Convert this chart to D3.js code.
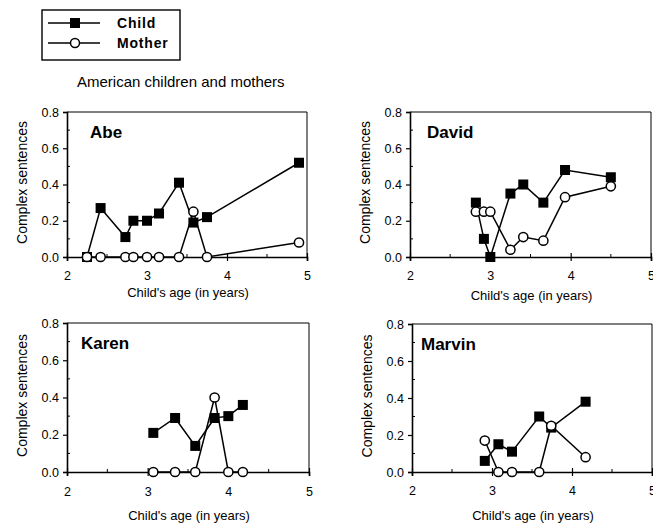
<!DOCTYPE html>
<html>
<head>
<meta charset="utf-8">
<script src="https://cdn.jsdelivr.net/npm/d3@7"></script>
<style>
  body { margin: 0; background: #fff; }
  svg { display: block; font-family: "Liberation Sans", Arial, sans-serif; }
</style>
</head>
<body>
<div id="chart"></div>
<script>
'use strict'
// values: age in years, share of complex sentences
var abeAge = [2.25, 2.42, 2.73, 2.83, 3.0, 3.15, 3.4, 3.58, 3.75, 4.9]
var abeChild = [0, 0.27, 0.11, 0.20, 0.20, 0.24, 0.41, 0.19, 0.22, 0.52]
var abeMother = [0, 0, 0, 0, 0, 0, 0, 0.25, 0, 0.08]

var davidAge = [2.82, 2.92, 3.0, 3.25, 3.41, 3.66, 3.93, 4.5]
var davidChild = [0.30, 0.10, 0.0, 0.35, 0.40, 0.30, 0.48, 0.44]
var davidMother = [0.25, 0.25, 0.25, 0.04, 0.11, 0.09, 0.33, 0.39]

var karenAge = [3.07, 3.34, 3.59, 3.83, 4.0, 4.18]
var karenChild = [0.21, 0.29, 0.14, 0.29, 0.30, 0.36]
var karenMother = [0, 0, 0, 0.40, 0, 0]

var marvinAge = [2.91, 3.08, 3.25, 3.59, 3.74, 4.17]
var marvinChild = [0.06, 0.15, 0.11, 0.30, 0.24, 0.38]
var marvinMother = [0.17, 0, 0, 0, 0.25, 0.08]

var xTicks = [2, 3, 4, 5]
var xMinor = [2.5, 3.5, 4.5]
var yTicks = [0, 0.2, 0.4, 0.6, 0.8]
var yMinor = [0.1, 0.3, 0.5, 0.7]

var panels = [
  { name: 'Abe', age: abeAge, child: abeChild, mother: abeMother, nameDx: 23,
    left: 67, right: 307, top: 112, bottom: 257, tickY: 280, titleY: 297 },
  { name: 'David', age: davidAge, child: davidChild, mother: davidMother, nameDx: 17,
    left: 410, right: 651, top: 112, bottom: 257, tickY: 280, titleY: 300 },
  { name: 'Karen', age: karenAge, child: karenChild, mother: karenMother, nameDx: 14,
    left: 67, right: 309, top: 323, bottom: 472, tickY: 496, titleY: 520 },
  { name: 'Marvin', age: marvinAge, child: marvinChild, mother: marvinMother, nameDx: 9,
    left: 412, right: 652, top: 324, bottom: 472, tickY: 495, titleY: 520 }
]

var svg = d3.select('#chart').append('svg')
  .attr('width', 653)
  .attr('height', 523)

// legend box
var legend = svg.append('g')
legend.append('rect')
  .attr('x', 42).attr('y', 10).attr('width', 138).attr('height', 50)
  .attr('fill', 'none').attr('stroke', '#000').attr('stroke-width', 1.4)
legend.append('line')
  .attr('x1', 48).attr('x2', 100).attr('y1', 23).attr('y2', 23)
  .attr('stroke', '#000').attr('stroke-width', 1.4)
legend.append('rect')
  .attr('x', 70).attr('y', 18).attr('width', 10).attr('height', 10)
  .attr('fill', '#000')
legend.append('line')
  .attr('x1', 48).attr('x2', 100).attr('y1', 43).attr('y2', 43)
  .attr('stroke', '#000').attr('stroke-width', 1.4)
legend.append('circle')
  .attr('cx', 75).attr('cy', 43).attr('r', 4.5)
  .attr('fill', '#fff').attr('stroke', '#000').attr('stroke-width', 1.5)
legend.append('text')
  .attr('x', 117).attr('y', 28).text('Child')
  .attr('font-size', 14).attr('font-weight', 'bold').attr('letter-spacing', 0.8)
legend.append('text')
  .attr('x', 117).attr('y', 48).text('Mother')
  .attr('font-size', 14).attr('font-weight', 'bold').attr('letter-spacing', 0.8)

svg.append('text')
  .attr('x', 77).attr('y', 87)
  .attr('font-size', 15)
  .text('American children and mothers')

panels.forEach(function (p) {
  var x = d3.scaleLinear().domain([2, 5]).range([p.left, p.right])
  var y = d3.scaleLinear().domain([0, 0.8]).range([p.bottom, p.top])
  var g = svg.append('g')

  // frame: heavier axes on left and bottom, thin top and right
  g.append('line').attr('x1', p.left).attr('x2', p.right).attr('y1', p.top).attr('y2', p.top)
    .attr('stroke', '#000').attr('stroke-width', 1)
  g.append('line').attr('x1', p.right).attr('x2', p.right).attr('y1', p.top).attr('y2', p.bottom)
    .attr('stroke', '#000').attr('stroke-width', 1)

  var xAxis = g.append('g').attr('transform', 'translate(0,' + p.bottom + ')')
    .call(d3.axisBottom(x).tickValues(xTicks).tickSize(4).tickFormat(d3.format('d')))
  xAxis.select('.domain').attr('stroke-width', 1.6)
  xAxis.selectAll('.tick line').attr('y1', -4).attr('stroke-width', 1.2)
  xAxis.selectAll('.tick text').attr('y', null).attr('dy', null)
    .attr('transform', 'translate(0,' + (p.tickY - p.bottom) + ')')
    .attr('font-size', 12.5).attr('font-family', 'Liberation Sans, Arial, sans-serif')
  xAxis.selectAll('.minor').data(xMinor).enter().append('line')
    .attr('x1', function (d) { return x(d) }).attr('x2', function (d) { return x(d) })
    .attr('y1', 0).attr('y2', -3).attr('stroke', '#000')

  var yAxis = g.append('g').attr('transform', 'translate(' + p.left + ',0)')
    .call(d3.axisLeft(y).tickValues(yTicks).tickSize(4).tickFormat(d3.format('.1f')))
  yAxis.select('.domain').attr('stroke-width', 1.6)
  yAxis.selectAll('.tick line').attr('stroke-width', 1.2)
  yAxis.selectAll('.tick text').attr('x', -8)
    .attr('font-size', 12.5).attr('font-family', 'Liberation Sans, Arial, sans-serif')
  yAxis.selectAll('.minor').data(yMinor).enter().append('line')
    .attr('y1', function (d) { return y(d) }).attr('y2', function (d) { return y(d) })
    .attr('x1', 0).attr('x2', 3).attr('stroke', '#000')

  // axis titles
  g.append('text')
    .attr('x', (p.left + p.right) / 2 + 1).attr('y', p.titleY)
    .attr('text-anchor', 'middle').attr('font-size', 13)
    .text("Child's age (in years)")
  g.append('text')
    .attr('transform', 'translate(' + (p.left - 40) + ',' + ((p.top + p.bottom) / 2 - 2) + ') rotate(-90)')
    .attr('text-anchor', 'middle').attr('font-size', 14)
    .text('Complex sentences')

  g.append('text')
    .attr('x', p.left + p.nameDx).attr('y', p.top + 26)
    .attr('font-size', 17).attr('font-weight', 'bold')
    .text(p.name)

  var rows = p.age.map(function (a, i) {
    return { age: a, child: p.child[i], mother: p.mother[i] }
  })
  var childLine = d3.line().x(function (d) { return x(d.age) }).y(function (d) { return y(d.child) })
  var motherLine = d3.line().x(function (d) { return x(d.age) }).y(function (d) { return y(d.mother) })

  g.append('path').datum(rows).attr('d', motherLine)
    .attr('fill', 'none').attr('stroke', '#000').attr('stroke-width', 1.5)
  g.append('path').datum(rows).attr('d', childLine)
    .attr('fill', 'none').attr('stroke', '#000').attr('stroke-width', 1.5)

  g.selectAll('.sq').data(rows).enter().append('rect')
    .attr('x', function (d) { return x(d.age) - 5 })
    .attr('y', function (d) { return y(d.child) - 5 })
    .attr('width', 10).attr('height', 10)
    .attr('fill', '#000')
  g.selectAll('.ci').data(rows).enter().append('circle')
    .attr('cx', function (d) { return x(d.age) })
    .attr('cy', function (d) { return y(d.mother) })
    .attr('r', 4.6)
    .attr('fill', '#fff').attr('stroke', '#000').attr('stroke-width', 1.5)
})
</script>
</body>
</html>
